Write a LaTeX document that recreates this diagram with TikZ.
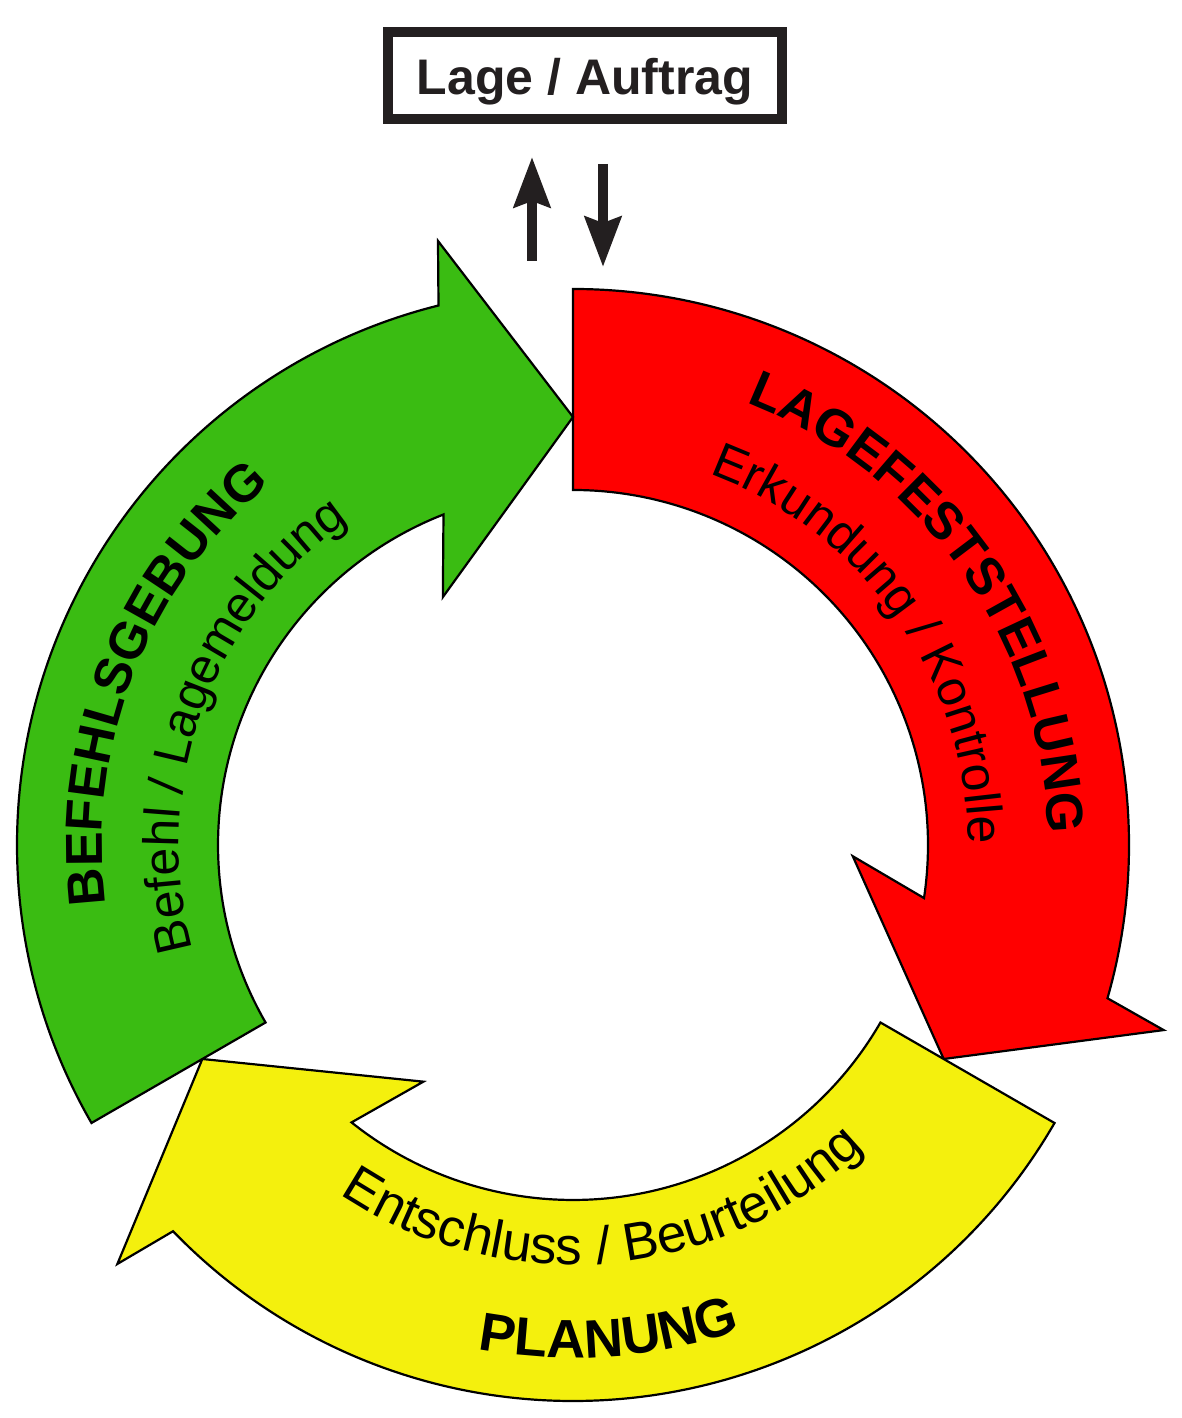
\documentclass[tikz,border=0pt]{standalone}
\usepackage{fontspec}
\setmainfont{Liberation Sans}
\usetikzlibrary{calc,arrows.meta,decorations.text}
\definecolor{ink}{RGB}{35,31,32}
\definecolor{redA}{RGB}{255,0,0}
\definecolor{greenA}{RGB}{58,188,18}
\definecolor{yellowA}{RGB}{244,240,13}
\newcommand{\boldtxt}{\fontsize{52}{60}\selectfont\bfseries}
\newcommand{\boldtxtb}{\fontsize{54}{60}\selectfont\bfseries}
\newcommand{\regtxt}{\fontsize{50}{58}\selectfont}
\newcommand{\regtxtb}{\fontsize{53}{58}\selectfont}
\begin{document}
\begin{tikzpicture}[x=1pt,y=1pt,
  arrowshape/.style={draw=black, line width=2.2pt, line join=miter},
  bigarrow/.style={draw=ink, line width=10pt, -{Stealth[length=50pt,width=36pt,inset=6pt]}},
  arclabel/.style={decorate, decoration={text along path, text align=center, text={#1}}}
]
\useasboundingbox (0,0) rectangle (1182,1418);
\coordinate (C) at (573,573);
% the three curved arrows
\foreach \o/\c in {0/redA,-120/yellowA,120/greenA}{
  \draw[arrowshape, fill=\c] ($(C)+(90+\o:556)$) arc[start angle=90+\o, end angle=-16+\o, radius=556]
    -- ($(C)+(-17.4+\o:619)$) -- ($(C)+(-30+\o:428)$) -- ($(C)+(-2.3+\o:280)$)
    -- ($(C)+(-8.6+\o:355)$) arc[start angle=-8.6+\o, end angle=90+\o, radius=355] -- cycle;
}
% labels along the arcs
\path[arclabel={|\boldtxt|LAGEFESTSTELLUNG}] ($(C)+(80:475)$) arc[start angle=80, end angle=-10, radius=475];
\path[arclabel={|\regtxt|Erkundung / Kontrolle}] ($(C)+(80:395)$) arc[start angle=80, end angle=-10, radius=395];
\path[arclabel={|\boldtxt|BEFEHLSGEBUNG}] ($(C)+(203.6:471)$) arc[start angle=203.6, end angle=113.6, radius=471];
\path[arclabel={|\regtxt|Befehl / Lagemeldung}] ($(C)+(205:394)$) arc[start angle=205, end angle=115, radius=394];
\path[arclabel={|\boldtxtb|PLANUNG}] ($(C)+(-115.8:513)$) arc[start angle=-115.8, end angle=-55.8, radius=513];
\path[arclabel={|\regtxtb|Entschluss / Beurteilung}] ($(C)+(-134.9:420)$) arc[start angle=-134.9, end angle=-34.9, radius=420];
% top box and arrows
\node[draw=ink, line width=10pt, minimum width=394pt, minimum height=87pt, inner sep=0pt,
  text height=39pt, text depth=0pt, text=ink, font=\fontsize{50}{60}\selectfont\bfseries] (box) at (585,1342.5) {Lage / Auftrag};
\coordinate (upS) at (532,1157);
\coordinate (upE) at (532,1261);
\coordinate (dnS) at (603,1254);
\coordinate (dnE) at (603,1151);
\draw[bigarrow] (upS) -- (upE);
\draw[bigarrow] (dnS) -- (dnE);
\end{tikzpicture}
\end{document}
